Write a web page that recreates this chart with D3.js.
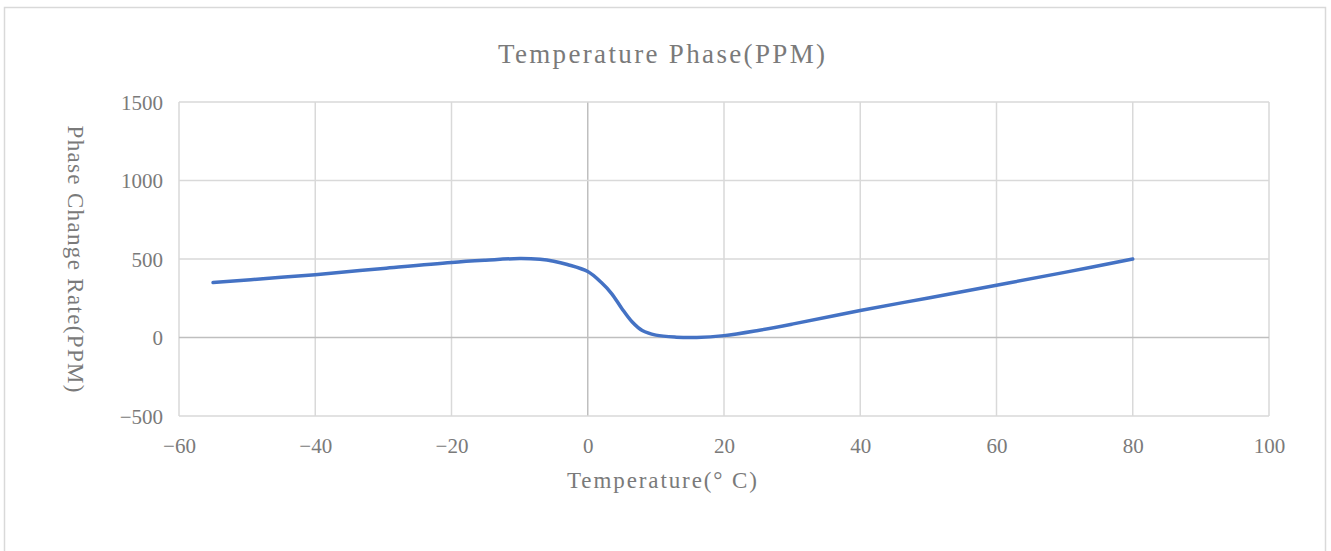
<!DOCTYPE html>
<html>
<head>
<meta charset="utf-8">
<script src="https://cdn.jsdelivr.net/npm/d3@7/dist/d3.min.js"></script>
<style>
  html, body { margin: 0; padding: 0; background: #ffffff; }
  svg { display: block; }
</style>
</head>
<body>
<svg id="chart" width="1331" height="551"></svg>
<script>
// ---- data ----
const temperatures = [-55, -45, -40, -30, -20, -15, -10, -7, -5, -3, 0, 2, 3.5, 5, 6.5, 8, 10, 13, 16, 20, 25, 30, 40, 50, 60, 70, 80];
const phaseChange  = [350, 383, 400, 440, 478, 492, 503, 498, 486, 465, 420, 350, 280, 185, 100, 44, 15, 2, 0, 12, 45, 85, 172, 252, 333, 415, 500];
const xTicks = [-60, -40, -20, 0, 20, 40, 60, 80, 100];
const yTicks = [-500, 0, 500, 1000, 1500];
const titleText = "Temperature Phase(PPM)";
const xTitleText = "Temperature(° C)";
const yTitleText = "Phase Change Rate(PPM)";

const svg = d3.select("#chart");
const FONT = "'Liberation Serif', 'DejaVu Serif', serif";
const TEXT_COLOR = "#7a7a7a";

// chart border
svg.append("rect")
  .attr("x", 4.5).attr("y", 7.5)
  .attr("width", 1321).attr("height", 560)
  .attr("fill", "#ffffff")
  .attr("stroke", "#d9d9d9").attr("stroke-width", 1.5);

const x = d3.scaleLinear().domain([-60, 100]).range([179, 1269]);
const y = d3.scaleLinear().domain([-500, 1500]).range([416, 102]);

// gridlines
const grid = svg.append("g");
grid.selectAll("line.v").data(xTicks).join("line")
  .attr("class", "v")
  .attr("x1", d => x(d)).attr("x2", d => x(d))
  .attr("y1", y(1500)).attr("y2", y(-500))
  .attr("stroke", d => d === 0 ? "#bfbfbf" : "#d9d9d9")
  .attr("stroke-width", 1.5);
grid.selectAll("line.h").data(yTicks).join("line")
  .attr("class", "h")
  .attr("x1", x(-60)).attr("x2", x(100))
  .attr("y1", d => y(d)).attr("y2", d => y(d))
  .attr("stroke", d => d === 0 ? "#bfbfbf" : "#d9d9d9")
  .attr("stroke-width", 1.5);

// axes (labels only)
const fmt = d => d < 0 ? "\u2212" + Math.abs(d) : String(d);
const xAxis = svg.append("g")
  .attr("transform", `translate(0,${y(-500)})`)
  .call(d3.axisBottom(x).tickValues(xTicks).tickSize(0).tickPadding(0).tickFormat(fmt));
xAxis.select(".domain").remove();
xAxis.selectAll("text")
  .attr("y", 37).attr("dy", 0)
  .attr("font-family", FONT).attr("font-size", 21)
  .attr("fill", TEXT_COLOR);

const yAxis = svg.append("g")
  .attr("transform", `translate(${x(-60)},0)`)
  .call(d3.axisLeft(y).tickValues(yTicks).tickSize(0).tickPadding(0).tickFormat(fmt));
yAxis.select(".domain").remove();
yAxis.selectAll("text")
  .attr("x", -16).attr("dy", "0.35em")
  .attr("font-family", FONT).attr("font-size", 21)
  .attr("fill", TEXT_COLOR);

// series line
const pts = temperatures.map((t, i) => [t, phaseChange[i]]);
const line = d3.line()
  .x(d => x(d[0])).y(d => y(d[1]))
  .curve(d3.curveCatmullRom.alpha(0.5));
svg.append("path")
  .datum(pts)
  .attr("d", line)
  .attr("fill", "none")
  .attr("stroke", "#4472c4")
  .attr("stroke-width", 3.5)
  .attr("stroke-linecap", "round")
  .attr("stroke-linejoin", "round");

// title
svg.append("text")
  .attr("x", 661.5).attr("y", 63)
  .attr("text-anchor", "middle")
  .attr("font-family", FONT).attr("font-size", 27)
  .attr("textLength", 327).attr("lengthAdjust", "spacing")
  .attr("fill", TEXT_COLOR)
  .text(titleText);

// x axis title
svg.append("text")
  .attr("x", 662).attr("y", 488)
  .attr("text-anchor", "middle")
  .attr("font-family", FONT).attr("font-size", 23)
  .attr("textLength", 190).attr("lengthAdjust", "spacing")
  .attr("fill", TEXT_COLOR)
  .text(xTitleText);

// y axis title (rotated clockwise)
svg.append("text")
  .attr("transform", `translate(68,259) rotate(90)`)
  .attr("text-anchor", "middle")
  .attr("font-family", FONT).attr("font-size", 23)
  .attr("textLength", 267).attr("lengthAdjust", "spacing")
  .attr("fill", TEXT_COLOR)
  .text(yTitleText);
</script>
</body>
</html>
